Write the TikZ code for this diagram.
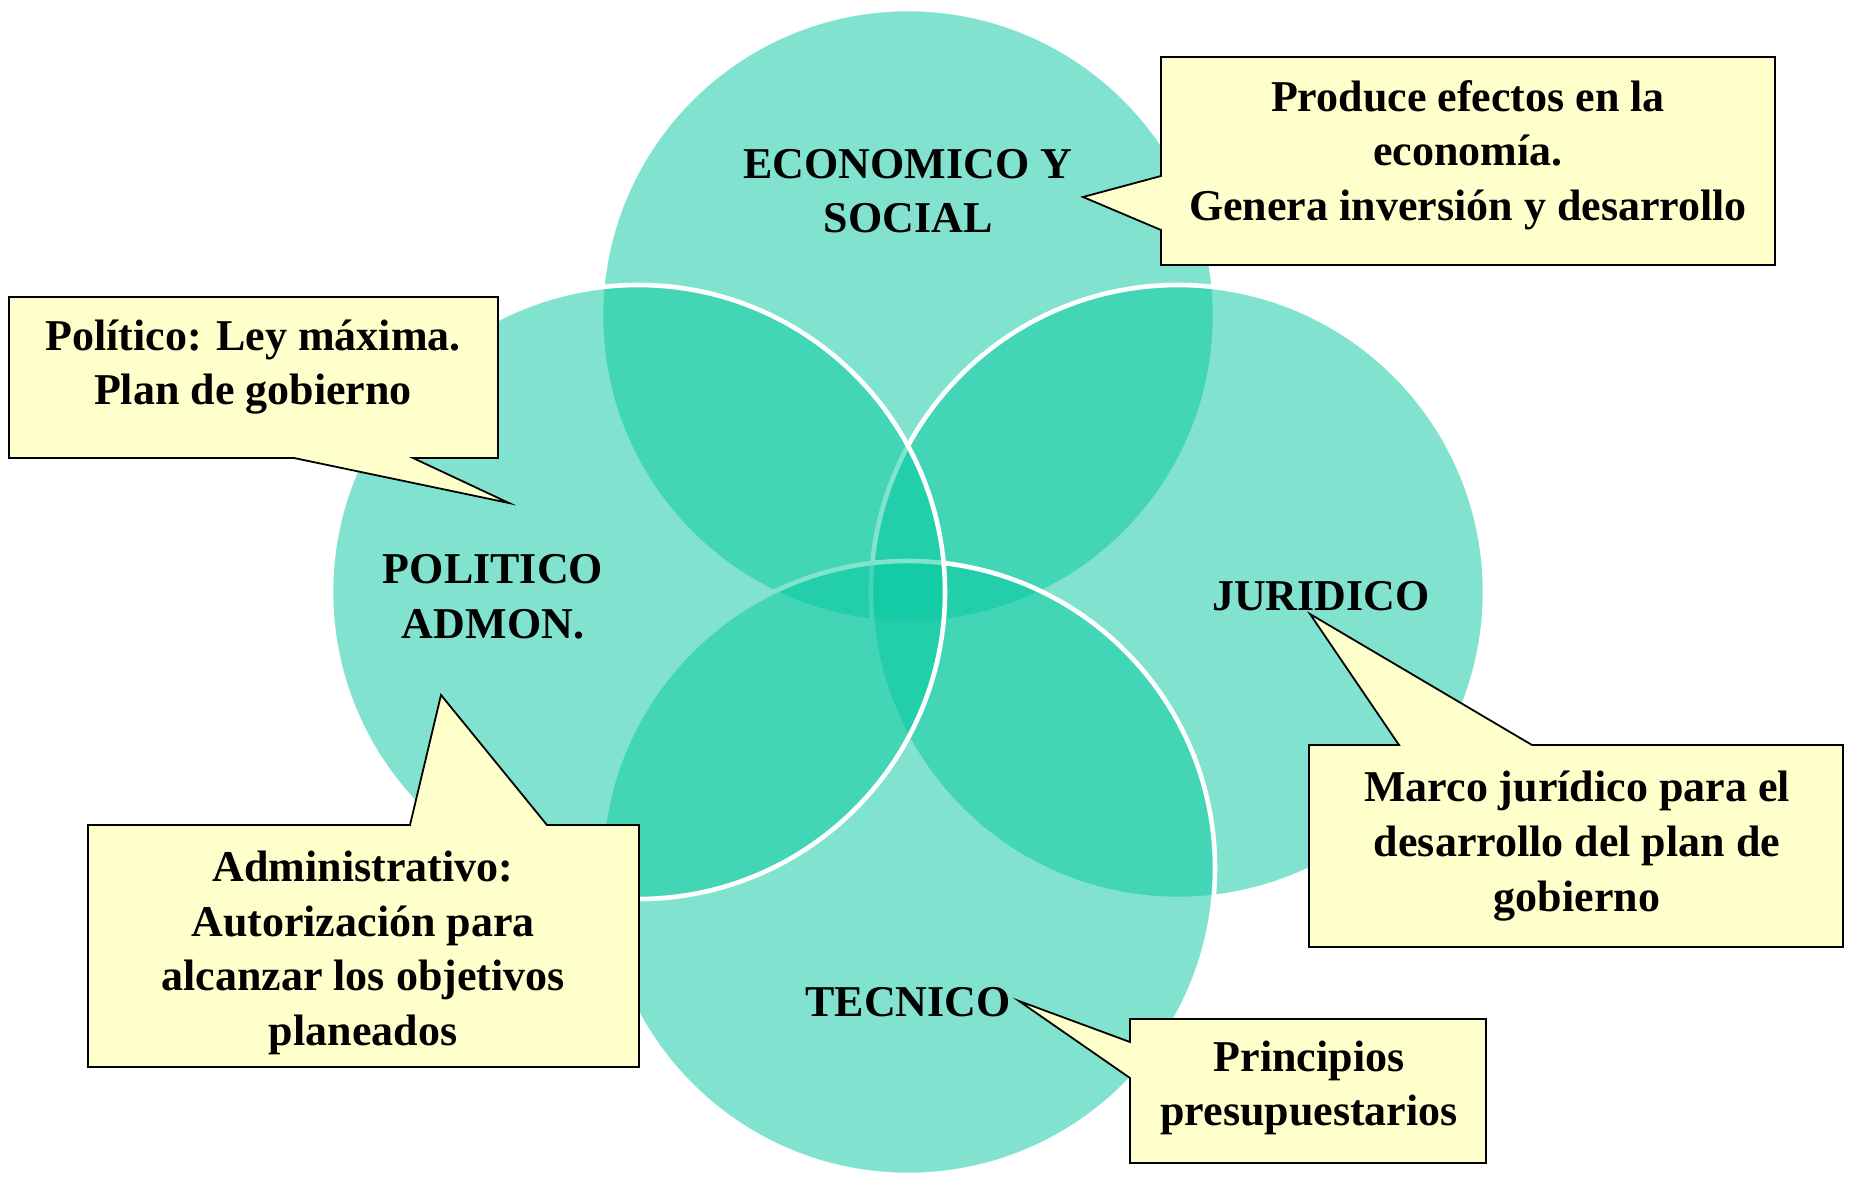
\documentclass[tikz,border=0pt]{standalone}
\usepackage{fontspec}
\setmainfont{Liberation Serif}
\definecolor{venngreen}{RGB}{4,200,159}
\definecolor{noteyellow}{RGB}{255,255,204}
\tikzstyle{venncircle}=[draw=white,line width=4.6pt,fill=venngreen,fill opacity=0.5]
\tikzstyle{callout}=[draw=black,line width=1.8pt,fill=noteyellow,line join=miter]
\tikzstyle{bigtext}=[font=\bfseries\fontsize{44}{54.6}\selectfont,align=center,inner sep=0pt]
\newcommand{\drawvenn}[1]{
\pgfmathsetmacro{\radius}{#1}
% drawing order matters: top, right, bottom, left
\foreach \cx/\cy in {908/316,1178/592,908/868,638/592} {
  \draw[venncircle] (\cx,\cy) circle (\radius pt);
}
}

\begin{document}
\begin{tikzpicture}[x=1pt,y=-1pt]
	\useasboundingbox (0,0) rectangle (1849,1178);
	\drawvenn{307}
	\node[bigtext] (eco) at (908,191) {ECONOMICO Y\\SOCIAL};
	\node[bigtext] (pol) at (493,597) {POLITICO\\ADMON.};
	\node[bigtext] (jur) at (1321,596) {JURIDICO};
	\node[bigtext] (tec) at (908,1002) {TECNICO};
	% callouts
	\coordinate (ecotip) at (1083,197);
	\coordinate (poltip) at (509,503);
	\coordinate (admtip) at (441,695);
	\coordinate (jurtip) at (1310,614);
	\coordinate (tectip) at (1019,1001);
	\draw[callout] (1161,57) -- (1775,57) -- (1775,265) -- (1161,265) -- (1161,230) -- (ecotip) -- (1161,176) -- cycle; %eco
	\draw[callout] (9,297) -- (498,297) -- (498,458) -- (413,458) -- (poltip) -- (294,458) -- (9,458) -- cycle; %pol
	\draw[callout] (88,825) -- (410,825) -- (admtip) -- (547,825) -- (639,825) -- (639,1067) -- (88,1067) -- cycle; %adm
	\draw[callout] (1309,745) -- (1399,745) -- (jurtip) -- (1532,745) -- (1843,745) -- (1843,947) -- (1309,947) -- cycle; %jur
	\draw[callout] (1130,1019) -- (1486,1019) -- (1486,1163) -- (1130,1163) -- (1130,1078) -- (tectip) -- (1130,1042) -- cycle; %tec
	\node[bigtext] (econote) at (1468,155) {Produce efectos en la\\economía.\\Genera inversión y desarrollo};
	\node[bigtext] (polnote) at (253,367) {Político: Ley máxima.\\Plan de gobierno};
	\node[bigtext] (admnote) at (363,953) {Administrativo:\\Autorización para\\alcanzar los objetivos\\planeados};
	\node[bigtext] (jurnote) at (1577,846) {Marco jurídico para el\\desarrollo del plan de\\gobierno};
	\node[bigtext] (tecnote) at (1309,1088) {Principios\\presupuestarios};
\end{tikzpicture}
\end{document}
